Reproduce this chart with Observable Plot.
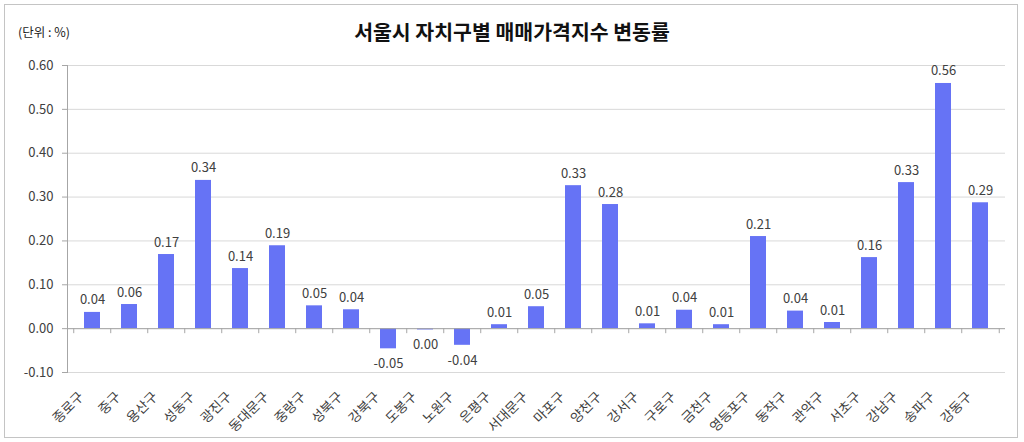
<!DOCTYPE html>
<html>
<head>
<meta charset="utf-8">
<script src="https://cdn.jsdelivr.net/npm/d3@7"></script>
<script src="https://cdn.jsdelivr.net/npm/@observablehq/plot@0.6"></script>
<style>
  html, body { margin: 0; padding: 0; background: #fff; }
  #wrap { position: relative; width: 1024px; height: 442px; overflow: hidden;
          font-family: "Noto Sans CJK KR", "Noto Sans", sans-serif; }
  #border { position: absolute; left: 4px; top: 4px; width: 1014px; height: 434px;
            box-sizing: border-box; border: 1px solid #c4c4c4; }
  #title { position: absolute; left: 0; width: 1024px; top: 17px; text-align: center;
           font-size: 20.5px; font-weight: bold; color: #111; line-height: 28px; }
  #unit { position: absolute; left: 18px; top: 24px; font-size: 12.5px; color: #222; line-height: 16px; }
  #plot { position: absolute; left: 0; top: 50px; }
</style>
</head>
<body>
<div id="wrap">
  <div id="border"></div>
  <div id="title">서울시 자치구별 매매가격지수 변동률</div>
  <div id="unit">(단위 : %)</div>
  <div id="plot"></div>
</div>
<script>
const districts = ["종로구","중구","용산구","성동구","광진구","동대문구","중랑구","성북구","강북구","도봉구","노원구","은평구","서대문구","마포구","양천구","강서구","구로구","금천구","영등포구","동작구","관악구","서초구","강남구","송파구","강동구"];
const changes = [0.037,0.055,0.169,0.338,0.137,0.189,0.052,0.043,-0.046,-0.003,-0.038,0.009,0.05,0.326,0.283,0.011,0.042,0.009,0.21,0.04,0.014,0.162,0.333,0.559,0.287];
const yTicks = [-0.1,0,0.1,0.2,0.3,0.4,0.5,0.6];

const data = districts.map((d, i) => ({district: d, value: changes[i]}));
const fmt = v => (Math.round(v * 100) / 100).toFixed(2);
const W = 1024, mL = 67, mR = 19;
const step = (W - mL - mR) / districts.length;

const chart = Plot.plot({
  width: W,
  height: 392,
  marginLeft: mL,
  marginRight: mR,
  marginTop: 15,
  marginBottom: 70,
  style: {fontFamily: "'Noto Sans CJK KR', 'Noto Sans', sans-serif", background: "transparent"},
  x: {domain: districts, paddingInner: 0.57, paddingOuter: 0.285, label: null},
  y: {domain: [-0.1, 0.6], label: null},
  marks: [
    Plot.gridY(yTicks, {stroke: "#d9d9d9", strokeOpacity: 1}),
    Plot.barY(data, {x: "district", y: "value", fill: "#6673F5"}),
    Plot.ruleY([0], {stroke: "#a6a6a6"}),
    Plot.frame({anchor: "left", stroke: "#a6a6a6"}),
    Plot.ruleX(districts, {x: d => d, y1: 0, y2: -0.0115, dx: -step / 2, stroke: "#a6a6a6"}),
    Plot.ruleX([districts[districts.length - 1]], {x: d => d, y1: 0, y2: -0.0115, dx: step / 2, stroke: "#a6a6a6"}),
    Plot.axisY(yTicks, {tickFormat: d => d.toFixed(2), tickSize: 5, tickPadding: 9, fontSize: 13, color: "#404040", stroke: "#a6a6a6"}),
    Plot.axisX({tickSize: 0, tickPadding: 7, tickRotate: -45, fontSize: 13.5, color: "#404040", label: null, dx: -11, dy: 15}),
    Plot.text(data.filter(d => d.value >= 0), {x: "district", y: "value", text: d => fmt(d.value), lineAnchor: "bottom", dy: -8, fontSize: 13, fill: "#404040"}),
    Plot.text(data.filter(d => d.value < 0), {x: "district", y: "value", text: d => fmt(d.value), lineAnchor: "top", dy: 10, fontSize: 13, fill: "#404040"})
  ]
});
document.getElementById("plot").appendChild(chart);
</script>
</body>
</html>
